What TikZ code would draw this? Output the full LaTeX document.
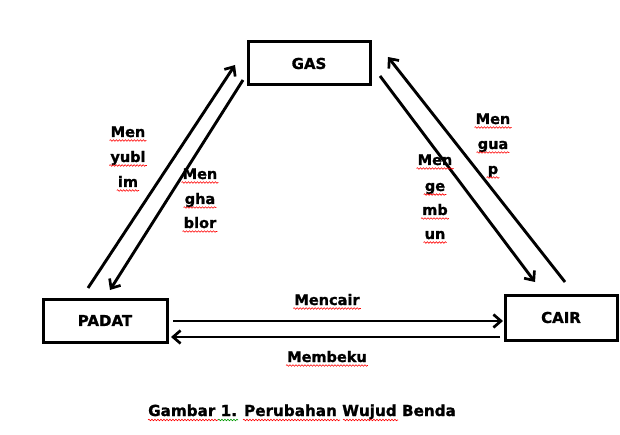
\documentclass[tikz,border=0pt]{standalone}
\usepackage{fontspec}
\setmainfont{DejaVu Sans}[BoldFeatures={FakeBold=1.2}]
\usetikzlibrary{arrows.meta,decorations.pathmorphing}
\begin{document}
\begin{tikzpicture}[x=1pt,y=-1pt,
  box/.style={draw,line width=3pt,inner sep=0pt,font=\bfseries\fontsize{15}{17}\selectfont},
  conn/.style={line width=2.9pt,-{Straight Barb[length=7.5pt,width=13pt,line width=2.7pt]}},
  lbl/.style={font=\bfseries\fontsize{14.5}{16}\selectfont,inner sep=1pt,anchor=base},
  squig/.style={red,line width=0.6pt,decorate,decoration={snake,amplitude=0.8pt,segment length=3pt}},
  gsquig/.style={squig,draw=green!60!black}]
\useasboundingbox (0,0) rectangle (620,435);
% boxes
\node[box,minimum width=122,minimum height=43] (gas) at (309,63.5) {GAS};
\node[box,minimum width=124,minimum height=43] (padat) at (105,320.5) {PADAT};
\node[box,minimum width=112,minimum height=45] (cair) at (561,317.5) {CAIR};
% connector end points
\coordinate (sA) at (88,288);  \coordinate (sB) at (235,65);
\coordinate (hA) at (243,80);  \coordinate (hB) at (110,290);
\coordinate (eA) at (380,76);  \coordinate (eB) at (535,282);
\coordinate (uA) at (565,282); \coordinate (uB) at (388,57);
\coordinate (cA) at (173,321); \coordinate (cB) at (503,321);
\coordinate (bA) at (500,337); \coordinate (bB) at (171,337);
\draw[conn] (sA) -- (sB);
\draw[conn] (hA) -- (hB);
\draw[conn] (eA) -- (eB);
\draw[conn] (uA) -- (uB);
\draw[conn] (cA) -- (cB);
\draw[conn] (bA) -- (bB);
% labels
\node[lbl] (s1) at (128,137) {Men};
\node[lbl] (s2) at (128,162) {yubl};
\node[lbl] (s3) at (128,187) {im};
\node[lbl] (h1) at (200,179) {Men};
\node[lbl] (h2) at (200,204) {gha};
\node[lbl] (h3) at (200,228) {blor};
\node[lbl] (e1) at (435,165) {Men};
\node[lbl] (e2) at (435,191) {ge};
\node[lbl] (e3) at (435,215) {mb};
\node[lbl] (e4) at (435,239) {un};
\node[lbl] (u1) at (493,124) {Men};
\node[lbl] (u2) at (493,149) {gua};
\node[lbl] (u3) at (493,174) {p};
\node[lbl] (mc) at (327,305) {Mencair};
\node[lbl] (mb) at (327,362) {Membeku};
\node[lbl,anchor=base west,inner sep=0pt,font=\bfseries\fontsize{15.2}{17}\selectfont] (cap) at (148,416) {Gambar 1. Perubahan Wujud Benda};
% spell-check underlines
\foreach \n in {s1,s2,s3,h1,h2,h3,e1,e2,e3,e4,u1,u2,u3,mc,mb}{
  \draw[squig] ([yshift=-3.5pt]\n.base west) -- ([yshift=-3.5pt]\n.base east);
}
\coordinate (c0) at ([yshift=-4pt]cap.base west);
\draw[squig] (c0) -- ++(70,0);
\draw[gsquig] ([xshift=70pt]c0) -- ++(20,0);
\draw[squig] ([xshift=95pt]c0) -- ++(97,0);
\draw[squig] ([xshift=195pt]c0) -- ++(55,0);
\end{tikzpicture}
\end{document}
